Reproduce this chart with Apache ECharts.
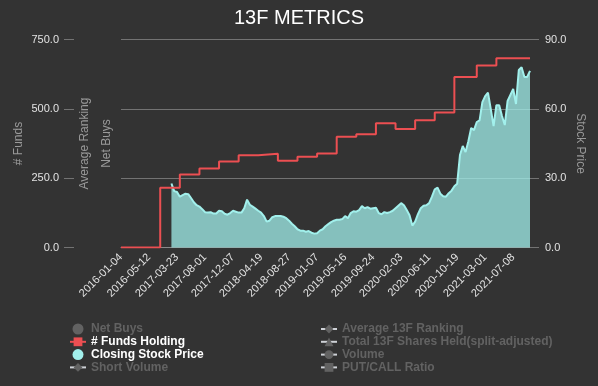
<!DOCTYPE html>
<html>
<head>
<meta charset="utf-8">
<script src="https://cdn.jsdelivr.net/npm/echarts/dist/echarts.min.js"></script>
<style>
html,body{margin:0;padding:0;background:#333333;}
#chart{width:598px;height:386px;}
</style>
</head>
<body>
<div id="chart"></div>
<script>
// ---- data ----
const tickLabels = ['2016-01-04','2016-05-12','2017-03-23','2017-08-01','2017-12-07','2018-04-19','2018-08-27',
  '2019-01-07','2019-05-16','2019-09-24','2020-02-03','2020-06-11','2020-10-19','2021-03-01','2021-07-08'];
const stepsPerTick = 10;
const extraSteps = 6;

// # Funds Holding (category index where value starts, value)
const fundsIndex  = [0, 14, 21, 28, 35, 42, 49, 56, 63, 70, 77, 84, 91, 98, 105, 112, 119, 127, 134, 146];
const fundsValues = [0, 215, 263, 285, 310, 333, 338, 313, 327, 339, 399, 408, 448, 427, 459, 487, 615, 656, 682, 682];

// Closing Stock Price, one value per category (first 18 empty)
const closingPrice = ['-','-','-','-','-','-','-','-','-','-','-','-','-','-','-','-','-','-',
  27.7,24.4,24.0,22.0,22.7,23.3,23.1,21.4,19.6,18.3,
  17.7,16.6,15.3,15.1,15.3,14.7,14.7,15.9,15.7,14.6,
  14.2,14.9,15.9,15.5,15.1,15.1,17.0,20.7,18.5,17.7,
  16.8,15.9,15.1,13.6,11.2,11.6,13.1,13.6,13.6,13.6,
  13.3,12.7,11.6,10.3,9.2,7.9,7.3,7.3,6.8,7.1,
  6.4,6.0,6.2,7.3,7.9,9.2,10.1,11.0,11.6,12.0,
  12.0,12.3,13.6,12.7,14.9,15.7,15.5,16.2,17.9,17.0,
  17.5,16.8,17.0,17.2,14.9,14.4,15.3,14.9,15.3,15.9,
  17.0,18.1,19.2,18.3,16.2,14.0,9.5,11.2,14.4,17.0,
  18.1,18.3,19.2,22.0,25.2,25.9,23.3,22.2,22.0,23.5,
  24.6,26.5,27.6,40.0,43.9,41.3,46.0,51.7,50.8,54.3,
  55.0,62.9,65.5,67.0,59.9,52.5,61.6,61.6,56.9,53.0,
  63.4,66.0,68.6,62.1,76.8,78.0,73.8,73.8,76.4];

const fundsTicks = [0, 250, 500, 750];
const priceTicks = [0, 30, 60, 90];

// ---- build category dates from the tick labels ----
function toDate(s){ const p = s.split('-'); return Date.UTC(+p[0], +p[1]-1, +p[2]); }
function fmt(t){ const d = new Date(t); return d.getUTCFullYear()+'-'+String(d.getUTCMonth()+1).padStart(2,'0')+'-'+String(d.getUTCDate()).padStart(2,'0'); }
const categories = [];
const total = (tickLabels.length-1)*stepsPerTick + extraSteps + 1;
for (let i = 0; i < total; i++) {
  let seg = Math.floor(i/stepsPerTick);
  if (seg >= tickLabels.length-1) seg = tickLabels.length-2;
  const a = toDate(tickLabels[seg]), b = toDate(tickLabels[seg+1]);
  const f = (i - seg*stepsPerTick)/stepsPerTick;
  const t = a + f*(b-a);
  categories.push(fmt(Math.round(t/86400000)*86400000));
}
const fundsData = fundsIndex.map((k,i)=>[k, fundsValues[i]]);

const RED = '#ec4f52';
const CYAN = '#a2f0ec';
const GRID = '#737373';
const LABEL = '#e2e2e2';
const NAME = '#9a9a9a';
const FONT = 'Liberation Sans, Arial, sans-serif';

const chart = echarts.init(document.getElementById('chart'), null, {renderer:'canvas'});
chart.setOption({
  backgroundColor: '#333333',
  animation: false,
  textStyle: {fontFamily: FONT},
  title: {text:'13F METRICS', left:'center', top:3,
    textStyle:{color:'#ffffff', fontSize:20, fontWeight:'normal', fontFamily:FONT}},
  grid: {left:121, right:68, top:39.5, bottom:138.5, containLabel:false, outerBoundsMode:'none'},
  legend: [
    {left:69, top:323, orient:'vertical', padding:0, itemGap:0.8, itemWidth:16, itemHeight:11,
     inactiveColor:'#626262',
     textStyle:{color:'#ffffff', fontSize:12, fontWeight:'bold', fontFamily:FONT},
     data:[{name:'Net Buys', icon:'circle'}, {name:'# Funds Holding'}, {name:'Closing Stock Price', icon:'circle'}, {name:'Short Volume'}],
     selected:{'Net Buys':false, 'Short Volume':false}},
    {left:320, top:323, orient:'vertical', padding:0, itemGap:0.8, itemWidth:16, itemHeight:11,
     inactiveColor:'#626262',
     textStyle:{color:'#ffffff', fontSize:12, fontWeight:'bold', fontFamily:FONT},
     data:['Average 13F Ranking','Total 13F Shares Held(split-adjusted)','Volume','PUT/CALL Ratio'],
     selected:{'Average 13F Ranking':false,'Total 13F Shares Held(split-adjusted)':false,'Volume':false,'PUT/CALL Ratio':false}}
  ],
  xAxis: {type:'category', data:categories, boundaryGap:false,
    axisLine:{show:true, lineStyle:{color:'#8a8a8a'}},
    axisTick:{show:false},
    axisLabel:{interval:stepsPerTick-1, rotate:45, color:LABEL, fontSize:11, margin:8, fontFamily:FONT},
    splitLine:{show:false}},
  yAxis: [
    {type:'value', name:'# Funds', position:'left', offset:47, min:fundsTicks[0], max:fundsTicks[fundsTicks.length-1], interval:fundsTicks[1]-fundsTicks[0],
     nameLocation:'middle', nameGap:49, nameMoveOverlap:false, nameTextStyle:{color:NAME, fontSize:12, fontFamily:FONT},
     axisLine:{show:false}, axisTick:{show:true, length:10, lineStyle:{color:GRID}},
     axisLabel:{color:LABEL, fontSize:11, margin:15, fontFamily:FONT, formatter:v=>v.toFixed(1)},
     splitLine:{show:true, lineStyle:{color:GRID, width:1}}},
    {type:'value', name:'Stock Price', position:'right', offset:0, min:priceTicks[0], max:priceTicks[priceTicks.length-1], interval:priceTicks[1]-priceTicks[0],
     nameLocation:'middle', nameGap:44, nameRotate:-90, nameMoveOverlap:false, nameTextStyle:{color:NAME, fontSize:12, fontFamily:FONT},
     axisLine:{show:false}, axisTick:{show:true, length:9, lineStyle:{color:GRID}},
     axisLabel:{color:LABEL, fontSize:11, margin:15, fontFamily:FONT, formatter:v=>v.toFixed(1)},
     splitLine:{show:false}},
    {type:'value', name:'Average Ranking', position:'left', offset:0,
     nameLocation:'middle', nameGap:30, nameTextStyle:{color:NAME, fontSize:12, fontFamily:FONT},
     axisLine:{show:false}, axisTick:{show:false}, axisLabel:{show:false}, splitLine:{show:false}},
    {type:'value', name:'Net Buys', position:'left', offset:0,
     nameLocation:'middle', nameGap:8, nameTextStyle:{color:NAME, fontSize:12, fontFamily:FONT},
     axisLine:{show:false}, axisTick:{show:false}, axisLabel:{show:false}, splitLine:{show:false}}
  ],
  series: [
    {name:'Net Buys', type:'bar', yAxisIndex:3, data:[], itemStyle:{color:'#888'}},
    {name:'# Funds Holding', type:'line', yAxisIndex:0, step:'end', data:fundsData,
     symbol:'rect', showSymbol:false, lineStyle:{color:RED, width:2}, itemStyle:{color:RED}, z:3},
    {name:'Closing Stock Price', type:'line', yAxisIndex:1, data:closingPrice,
     symbol:'circle', showSymbol:false, lineStyle:{color:CYAN, width:2}, itemStyle:{color:CYAN},
     areaStyle:{color:CYAN, opacity:0.75}, z:2},
    {name:'Short Volume', type:'line', yAxisIndex:0, data:[], symbol:'diamond', itemStyle:{color:'#888'}},
    {name:'Average 13F Ranking', type:'line', yAxisIndex:2, data:[], symbol:'diamond', itemStyle:{color:'#888'}},
    {name:'Total 13F Shares Held(split-adjusted)', type:'line', yAxisIndex:0, data:[], symbol:'triangle', itemStyle:{color:'#888'}},
    {name:'Volume', type:'line', yAxisIndex:0, data:[], symbol:'circle', itemStyle:{color:'#888'}},
    {name:'PUT/CALL Ratio', type:'line', yAxisIndex:0, data:[], symbol:'rect', itemStyle:{color:'#888'}}
  ]
});
</script>
</body>
</html>
